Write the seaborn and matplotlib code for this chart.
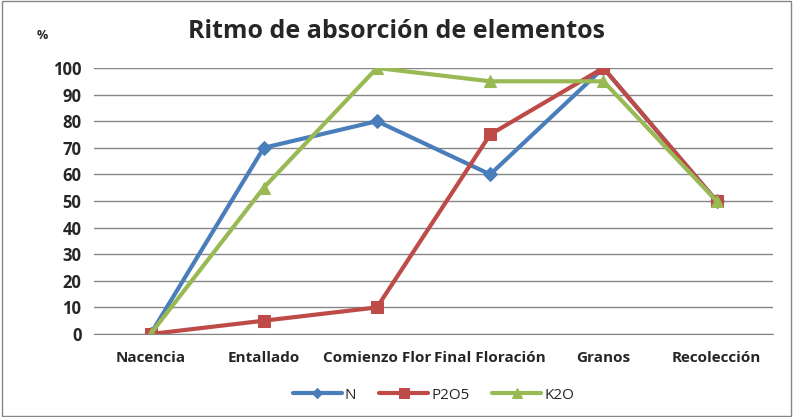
import numpy as np
import pandas as pd
import matplotlib
matplotlib.use("Agg")
import matplotlib.pyplot as plt
import seaborn as sns
from matplotlib.patches import Rectangle

# Data
stages = ["Nacencia", "Entallado", "Comienzo Flor", "Final Floración", "Granos", "Recolección"]
n_vals = [0, 70, 80, 60, 100, 50]
p2o5_vals = [0, 5, 10, 75, 100, 50]
k2o_vals = [0, 55, 100, 95, 95, 50]
series_names = ["N", "P2O5", "K2O"]

COLORS = {"N": "#4A7EBB", "P2O5": "#BE4B48", "K2O": "#98B954"}
MARKERS = {"N": "D", "P2O5": "s", "K2O": "^"}
MSIZE = {"N": 7, "P2O5": 9, "K2O": 9}

df = pd.DataFrame({
    "stage": stages * 3,
    "pos": list(range(len(stages))) * 3,
    "value": n_vals + p2o5_vals + k2o_vals,
    "serie": sum([[s] * len(stages) for s in series_names], []),
})

sns.set_style("white")
plt.rcParams["font.family"] = ["Open Sans", "DejaVu Sans"]

fig = plt.figure(figsize=(7.93, 4.17), dpi=100)
ax = fig.add_axes([0.1185, 0.199, 0.8565, 0.638])

for s in series_names:
    sub = df[df["serie"] == s]
    sns.lineplot(data=sub, x="pos", y="value", ax=ax, color=COLORS[s],
                 linewidth=3, marker=MARKERS[s], markersize=MSIZE[s],
                 markeredgecolor=COLORS[s], label=s)

ax.set_xlim(-0.5, len(stages) - 0.5)
ax.set_ylim(0, 100)
ax.set_yticks(np.arange(0, 101, 10))
ax.set_xticks(range(len(stages)))
ax.set_xticklabels(stages)
ax.tick_params(axis="both", length=0)
ax.tick_params(axis="x", pad=12, labelsize=11)
ax.tick_params(axis="y", pad=9, labelsize=12)
for lab in ax.get_xticklabels() + ax.get_yticklabels():
    lab.set_fontweight("bold")
ax.set_xlabel("")
ax.set_ylabel("")
ax.yaxis.grid(True, color="#868686", linewidth=1)
ax.set_axisbelow(True)
for side in ["top", "right", "left"]:
    ax.spines[side].set_visible(False)
ax.spines["bottom"].set_color("#868686")

fig.text(0.5, 0.925, "Ritmo de absorción de elementos", ha="center", va="center",
         fontsize=18, fontweight="bold")
fig.text(0.053, 0.915, "%", ha="center", va="center", fontsize=9, fontweight="bold")

ax.legend(loc="upper center", bbox_to_anchor=(0.5, -0.15), ncol=3, frameon=False,
          fontsize=11, handlelength=3.2, columnspacing=1.5, handletextpad=0.2,
          markerscale=0.8)

fig.patches.append(Rectangle((0.002, 0.003), 0.995, 0.994, transform=fig.transFigure,
                             fill=False, edgecolor="#868686", linewidth=1))

plt.savefig("out.png", dpi=100)
plt.close()
